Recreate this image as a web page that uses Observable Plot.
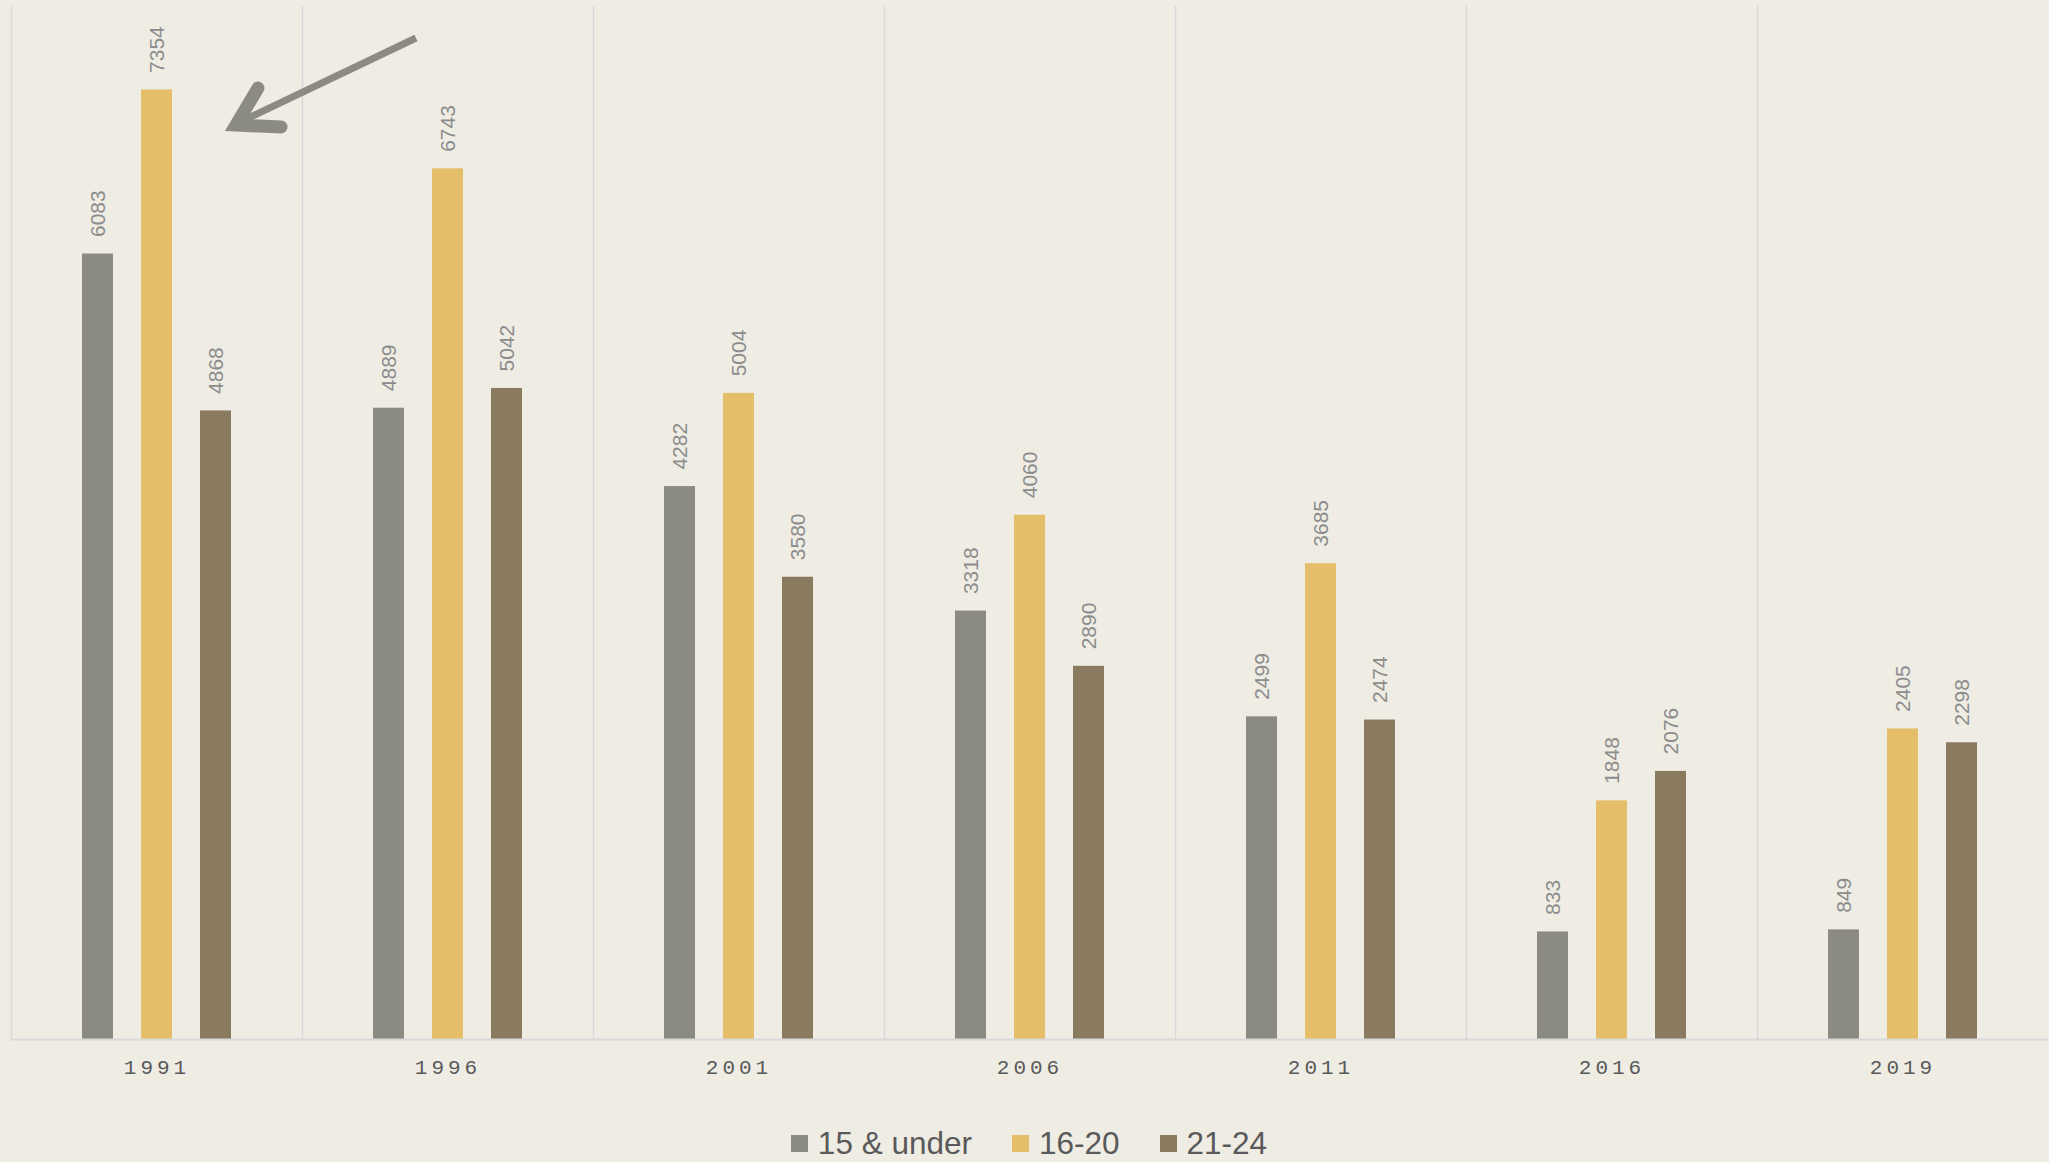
<!DOCTYPE html>
<html>
<head>
<meta charset="utf-8">
<script src="https://cdn.jsdelivr.net/npm/d3@7"></script>
<script src="https://cdn.jsdelivr.net/npm/@observablehq/plot@0.6"></script>
<style>
  html, body { margin: 0; padding: 0; background: #efece4; }
  #chart { width: 2049px; height: 1162px; position: relative; overflow: hidden; }
  #chart svg { display: block; }
  g[aria-label="fx-axis tick label"] text {
    font-family: "Liberation Mono", monospace;
    font-size: 21px;
    letter-spacing: 4px;
    fill: #595959;
  }
  .legend {
    display: flex; justify-content: center; align-items: center;
    gap: 40px; height: 38px; padding-top: 24px; padding-left: 9px;
    font-family: "Liberation Sans", Arial, sans-serif; font-size: 31.5px; color: #595959;
  }
  .legend .item { display: flex; align-items: center; gap: 10px; }
  .legend .sw { width: 17px; height: 17px; display: inline-block; }
</style>
</head>
<body>
<div id="chart"></div>
<script>
const years = [1991, 1996, 2001, 2006, 2011, 2016, 2019];
const series = ["15 & under", "16-20", "21-24"];
const under15 = [6083, 4889, 4282, 3318, 2499, 833, 849];
const age16to20 = [7354, 6743, 5004, 4060, 3685, 1848, 2405];
const age21to24 = [4868, 5042, 3580, 2890, 2474, 2076, 2298];
const colors = ["#8b8b84", "#e5be69", "#8a7a5f"];

const seriesValues = [under15, age16to20, age21to24];
const table = [];
years.forEach((year, i) => {
  series.forEach((s, j) => table.push({year, series: s, value: seriesValues[j][i]}));
});

const plot = Plot.plot({
  width: 2049,
  height: 1100,
  marginTop: 6,
  marginBottom: 61,
  marginLeft: 9,
  marginRight: 0,
  style: {background: "transparent", fontFamily: "'Liberation Sans', Arial, sans-serif"},
  fx: {domain: years, padding: 0, label: null},
  x: {domain: series, axis: null, paddingInner: 0.483, paddingOuter: 1.17},
  y: {domain: [0, 8000], axis: null},
  color: {domain: series, range: colors},
  marks: [
    Plot.frame({anchor: "left", stroke: "#d9d9d9", strokeWidth: 1.5}),
    Plot.axisFx({anchor: "bottom", tickSize: 0, tickPadding: 20, label: null, fontSize: 21, fill: "#595959", tickFormat: d => String(d)}),
    Plot.barY(table, {fx: "year", x: "series", y: "value", fill: "series"}),
    Plot.ruleY([0], {stroke: "#d9d9d9", strokeWidth: 2}),
    Plot.text(table, {
      fx: "year", x: "series", y: "value", text: d => String(d.value),
      rotate: -90, textAnchor: "start", dy: -17, fill: "#8c8c8c", fontSize: 21
    })
  ]
});

// Annotation arrow (pixel-space annotation pointing at the 1991 peak)
const arrow = {shaft: [[416, 38], [234, 125]], head: [[258, 88], [236, 125], [281, 127]]};
const svg = d3.select(plot);
svg.append("path")
  .attr("d", d3.line()(arrow.shaft))
  .attr("stroke", "#8b8b84").attr("stroke-width", 7).attr("fill", "none");
svg.append("path")
  .attr("d", d3.line()(arrow.head))
  .attr("stroke", "#8b8b84").attr("stroke-width", 13).attr("fill", "none")
  .attr("stroke-linecap", "round").attr("stroke-linejoin", "miter").attr("stroke-miterlimit", 10);

const chart = document.getElementById("chart");
chart.appendChild(plot);

const legend = document.createElement("div");
legend.className = "legend";
series.forEach((s, j) => {
  const item = document.createElement("div");
  item.className = "item";
  const sw = document.createElement("span");
  sw.className = "sw";
  sw.style.background = colors[j];
  const label = document.createElement("span");
  label.textContent = s;
  item.appendChild(sw);
  item.appendChild(label);
  legend.appendChild(item);
});
chart.appendChild(legend);
</script>
</body>
</html>
